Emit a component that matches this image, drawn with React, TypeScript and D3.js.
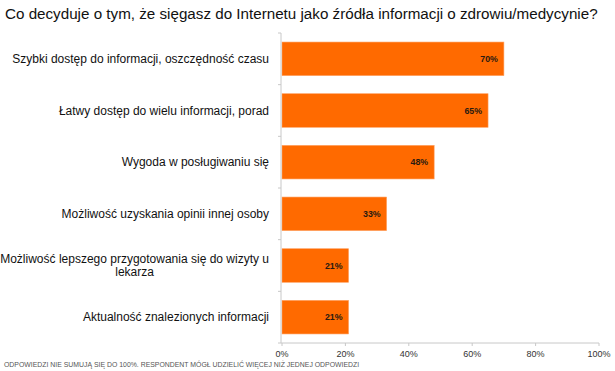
import React, { useEffect, useRef } from "react";
import * as d3 from "d3";

const categories: string[][] = [
  ["Szybki dostęp do informacji, oszczędność czasu"],
  ["Łatwy dostęp do wielu informacji, porad"],
  ["Wygoda w posługiwaniu się"],
  ["Możliwość uzyskania opinii innej osoby"],
  ["Możliwość lepszego przygotowania się do wizyty u", "lekarza"],
  ["Aktualność znalezionych informacji"],
];
const values: number[] = [70, 65, 48, 33, 21, 21];
const xTicks: number[] = [0, 20, 40, 60, 80, 100];
const title = "Co decyduje o tym, że sięgasz do Internetu jako źródła informacji o zdrowiu/medycynie?";
const footnote = "ODPOWIEDZI NIE SUMUJĄ SIĘ DO 100%. RESPONDENT MÓGŁ UDZIELIĆ WIĘCEJ NIŻ JEDNEJ ODPOWIEDZI";

const W = 615;
const H = 371;
const FONT = "Liberation Sans, Arial, sans-serif";

export default function App() {
  const ref = useRef<SVGSVGElement>(null);

  useEffect(() => {
    const svg = d3.select(ref.current);
    svg.selectAll("*").remove();

    const x = d3.scaleLinear().domain([0, 100]).range([282, 599]);
    const y = d3
      .scaleBand<number>()
      .domain(d3.range(categories.length))
      .range([33, 343])
      .paddingInner(0.35)
      .paddingOuter(0.175);

    svg.append("rect").attr("width", W).attr("height", H).attr("fill", "#fff");

    svg
      .append("text")
      .attr("x", 5)
      .attr("y", 19)
      .attr("font-family", FONT)
      .attr("font-size", 15.2)
      .attr("fill", "#111")
      .text(title);

    // bars
    svg
      .selectAll("rect.bar")
      .data(values)
      .join("rect")
      .attr("class", "bar")
      .attr("x", x(0))
      .attr("y", (_, i) => y(i)!)
      .attr("width", (d) => x(d) - x(0))
      .attr("height", y.bandwidth())
      .attr("fill", "#ff6a00")
      .attr("stroke", "#ffa060")
      .attr("stroke-width", 0.6);

    // value labels
    svg
      .selectAll("text.val")
      .data(values)
      .join("text")
      .attr("class", "val")
      .attr("x", (d) => x(d) - 6)
      .attr("y", (_, i) => y(i)! + y.bandwidth() / 2)
      .attr("dy", "0.35em")
      .attr("text-anchor", "end")
      .attr("font-family", FONT)
      .attr("font-size", 8.8)
      .attr("font-weight", "bold")
      .attr("fill", "#2a1a10")
      .text((d) => `${d}%`);

    // y axis line and ticks
    const axisColor = "#c8c8c8";
    svg
      .append("line")
      .attr("x1", x(0) - 1)
      .attr("x2", x(0) - 1)
      .attr("y1", 33)
      .attr("y2", 343)
      .attr("stroke", axisColor);
    const bounds = d3.range(categories.length + 1).map((i) => 33 + i * y.step());
    svg
      .selectAll("line.yt")
      .data(bounds)
      .join("line")
      .attr("class", "yt")
      .attr("x1", x(0) - 4)
      .attr("x2", x(0) - 1)
      .attr("y1", (d) => d)
      .attr("y2", (d) => d)
      .attr("stroke", axisColor);

    // x axis
    svg
      .append("line")
      .attr("x1", x(0) - 1)
      .attr("x2", x(100))
      .attr("y1", 343)
      .attr("y2", 343)
      .attr("stroke", axisColor);
    svg
      .selectAll("line.xt")
      .data(xTicks)
      .join("line")
      .attr("class", "xt")
      .attr("x1", (d) => x(d))
      .attr("x2", (d) => x(d))
      .attr("y1", 343)
      .attr("y2", 346)
      .attr("stroke", axisColor);
    svg
      .selectAll("text.xl")
      .data(xTicks)
      .join("text")
      .attr("class", "xl")
      .attr("x", (d) => x(d))
      .attr("y", 354)
      .attr("dy", "0.35em")
      .attr("text-anchor", "middle")
      .attr("font-family", FONT)
      .attr("font-size", 9)
      .attr("fill", "#333")
      .text((d) => `${d}%`);

    // category labels
    const lineH = 13.5;
    categories.forEach((lines, i) => {
      const cy = y(i)! + y.bandwidth() / 2;
      const g = svg.append("g");
      const texts = lines.map((ln, j) =>
        g
          .append("text")
          .attr("y", cy + (j - (lines.length - 1) / 2) * lineH)
          .attr("dy", "0.35em")
          .attr("font-family", FONT)
          .attr("font-size", 12)
          .attr("fill", "#111")
          .text(ln)
      );
      const widths = texts.map((t) => (t.node() as SVGTextElement).getComputedTextLength());
      const maxW = Math.max(...widths);
      const right = 269;
      const center = right - maxW / 2;
      texts.forEach((t) => t.attr("x", center).attr("text-anchor", "middle"));
    });

    svg
      .append("text")
      .attr("x", 4)
      .attr("y", 367)
      .attr("font-family", FONT)
      .attr("font-size", 6.9)
      .attr("fill", "#555")
      .text(footnote);
  }, []);

  return (
    <svg
      ref={ref}
      width={W}
      height={H}
      style={{ position: "absolute", left: 0, top: 0, display: "block" }}
    />
  );
}
